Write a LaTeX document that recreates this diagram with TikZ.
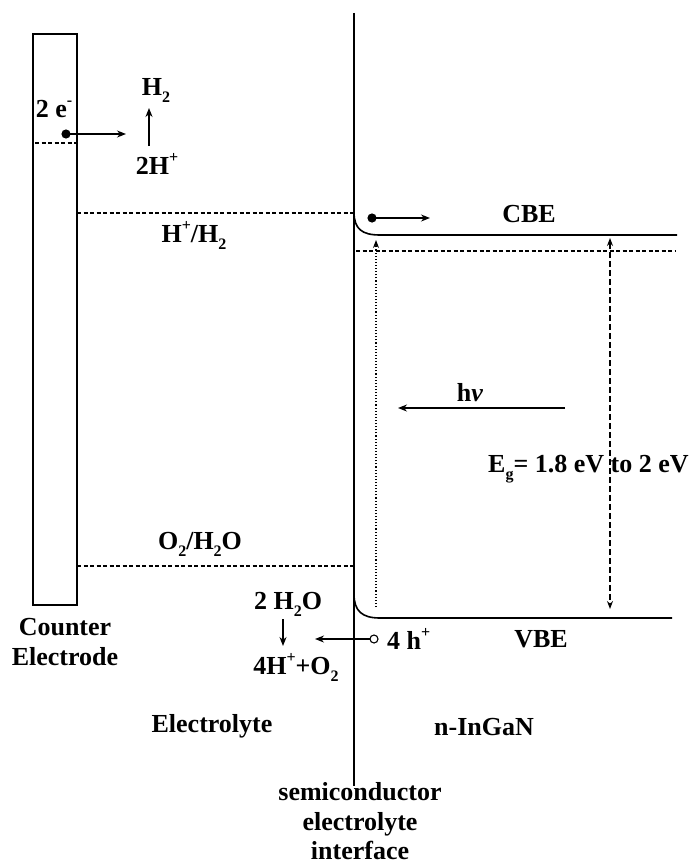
\documentclass[tikz,border=0pt]{standalone}
\usepackage{fontspec}
\setmainfont{Liberation Serif}
\usetikzlibrary{arrows.meta}
\newcommand{\dn}[1]{\raisebox{-0.3em}{\fontsize{16}{16}\selectfont#1}}
\newcommand{\up}[1]{\raisebox{0.45em}{\fontsize{16}{16}\selectfont#1}}
\tikzset{
  lbl/.style={font=\fontsize{26}{30}\selectfont\bfseries, inner sep=0pt, anchor=base},
  band/.style={line width=1.6pt},
  lvl/.style={line width=1.3pt, dash pattern=on 4pt off 2.5pt},
  arr/.style={line width=1.4pt, -{Stealth[length=9pt,width=7pt]}},
}
\begin{document}
\begin{tikzpicture}[x=1pt, y=-1pt]
    \useasboundingbox (0,0) rectangle (694,867);

    %Counter electrode
    \draw[band] (33,34) rectangle (77,605);
    \draw[lvl] (35,143) -- (77,143);
    \node[lbl] (lblCounter) at (65,635) {Counter};
    \node[lbl] (lblElectrode) at (65,665) {Electrode};

    %electrons leaving the counter electrode
    \coordinate (eDot) at (66,134);
    \coordinate (eEnd) at (126,134);
    \fill (eDot) circle (4.6pt);
    \draw[arr] (eDot) ++(4,0) -- (eEnd);
    \node[lbl] (lblTwoE) at (54,117) {2 e\up{-}};
    \node[lbl] (lblHtwo) at (156,95) {H\dn{2}};
    \node[lbl] (lblTwoH) at (157,174) {2H\up{+}};
    \coordinate (hUpStart) at (149,146);
    \coordinate (hUpEnd) at (149,108);
    \draw[arr] (hUpStart) -- (hUpEnd);

    %redox levels in the electrolyte
    \coordinate (redH) at (77,213);
    \coordinate (redO) at (77,566);
    \draw[lvl] (redH) -- (353,213);
    \draw[lvl] (redO) -- (353,566);
    \node[lbl] (lblHH) at (194,242) {H\up{+}/H\dn{2}};
    \node[lbl] (lblOH) at (200,549) {O\dn{2}/H\dn{2}O};

    %semiconductor electrolyte interface
    \coordinate (ifTop) at (354,13);
    \coordinate (ifBot) at (354,786);
    \draw[band] (ifTop) -- (ifBot);
    \foreach \t [count=\i] in {semiconductor, electrolyte, interface} {
        \node[lbl] (lblIface\i) at (360,771+29.5*\i) {\t};
    }

    %band edges with bending at the surface
    \draw[band] (354,212) .. controls (354,229) and (362,235) .. (380,235) -- (677,235);
    \draw[band] (354,594) .. controls (354,611) and (362,618) .. (380,618) -- (672,618);
    \draw[lvl] (356,251) -- (675,251);
    \node[lbl] (lblCBE) at (529,222) {CBE};
    \node[lbl] (lblVBE) at (541,647) {VBE};

    %electron in the conduction band
    \coordinate (cbDot) at (372,218);
    \coordinate (cbEnd) at (430,218);
    \fill (cbDot) circle (4.6pt);
    \draw[arr] (cbDot) ++(4,0) -- (cbEnd);

    %excitation and band gap
    \coordinate (excLow) at (376,607);
    \coordinate (excHigh) at (376,240);
    \draw[line width=1.1pt, dotted, -{Stealth[length=8pt,width=6pt]}] (excLow) -- (excHigh);
    \coordinate (gapTop) at (610,238);
    \coordinate (gapBot) at (610,609);
    \draw[line width=1.1pt, dash pattern=on 6pt off 3pt, {Stealth[length=8pt,width=6pt]}-{Stealth[length=8pt,width=6pt]}] (gapTop) -- (gapBot);
    \node[lbl, anchor=base west] (lblGap) at (488,472) {E\dn{g}= 1.8 eV to 2 eV};

    %light
    \coordinate (lightStart) at (565,408);
    \coordinate (lightEnd) at (398,408);
    \draw[arr] (lightStart) -- (lightEnd);
    \node[lbl] (lblHnu) at (470,401) {h\textit{ν}};

    %holes oxidising water
    \coordinate (hDot) at (374,639);
    \coordinate (hEnd) at (315,639);
    \draw[line width=1.1pt] (hDot) circle (4pt);
    \draw[arr] (hDot) ++(-4,0) -- (hEnd);
    \node[lbl, anchor=base west] (lblHoles) at (387,649) {4 h\up{+}};
    \node[lbl] (lblWater) at (288,609) {2 H\dn{2}O};
    \node[lbl] (lblOxy) at (296,674) {4H\up{+}+O\dn{2}};
    \coordinate (wDownStart) at (283,619);
    \coordinate (wDownEnd) at (283,646);
    \draw[arr] (wDownStart) -- (wDownEnd);

    %regions
    \node[lbl] (lblElectrolyte) at (212,732) {Electrolyte};
    \node[lbl] (lblInGaN) at (484,735) {n-InGaN};
\end{tikzpicture}
\end{document}
